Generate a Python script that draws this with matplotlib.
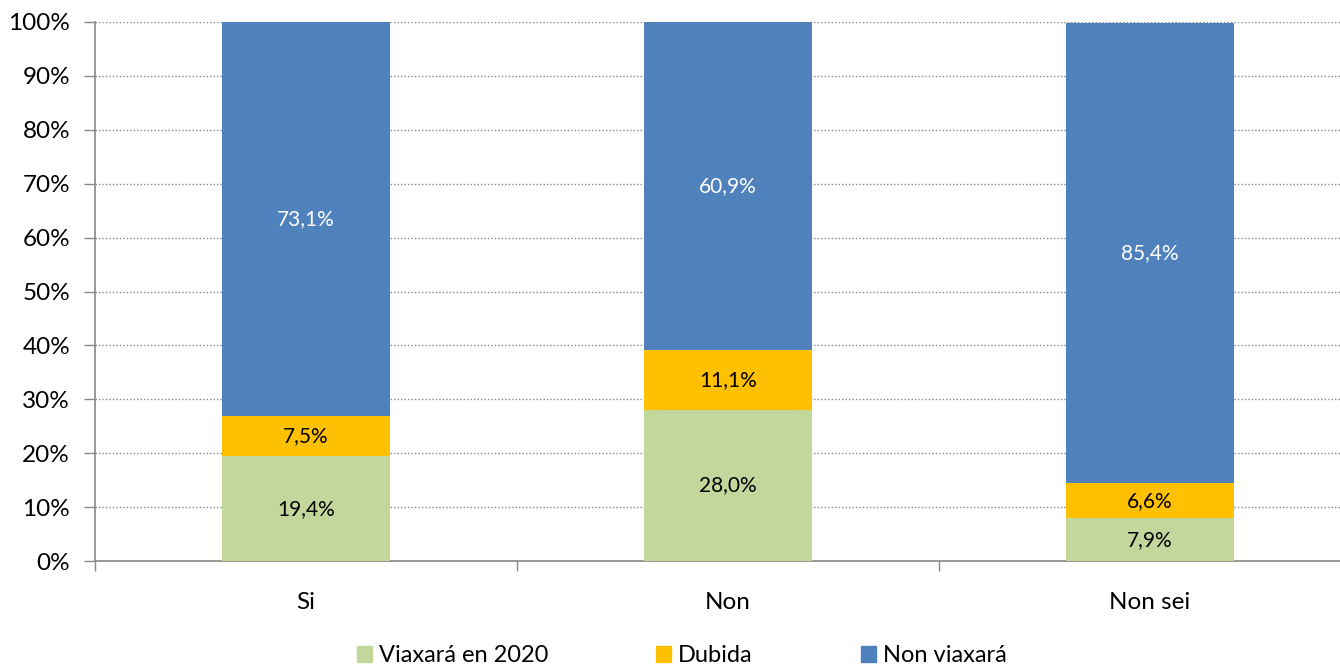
import matplotlib.pyplot as plt
import numpy as np
from matplotlib.patches import Patch

categories = ['Si', 'Non', 'Non sei']
viaxara = [19.4, 28.0, 7.9]
dubida = [7.5, 11.1, 6.6]
non_viaxara = [73.1, 60.9, 85.4]
series_names = ['Viaxará en 2020', 'Dubida', 'Non viaxará']
colors = ['#C3D69B', '#FFC000', '#4F81BD']
label_colors = ['#000000', '#000000', '#FFFFFF']

plt.rcParams['font.family'] = ['Lato', 'DejaVu Sans']

fig = plt.figure(figsize=(13.4, 6.66), dpi=100)
ax = fig.add_axes([95 / 1340, 105 / 666, 1266 / 1340, 539 / 666])

x = np.arange(len(categories))
bottom = np.zeros(len(categories))
for vals, col, lc in zip([viaxara, dubida, non_viaxara], colors, label_colors):
    vals = np.array(vals)
    ax.bar(x, vals, 0.4, bottom=bottom, color=col, zorder=3)
    for xi, b, v in zip(x, bottom, vals):
        ax.text(xi, b + v / 2, f'{v:.1f}%'.replace('.', ','), ha='center', va='center',
                fontsize=15, color=lc, zorder=4)
    bottom += vals

ax.set_xlim(-0.5, 2.5)
ax.set_ylim(0, 100)
ax.set_yticks(np.arange(0, 101, 10))
ax.set_yticklabels([f'{v}%' for v in range(0, 101, 10)], fontsize=17.5)
ax.set_xticks(x)
ax.set_xticklabels(categories, fontsize=17.5)
ax.set_xticks([-0.5, 0.5, 1.5], minor=True)
ax.tick_params(axis='x', which='major', length=0, pad=22)
ax.tick_params(axis='x', which='minor', length=7, color='#888888', width=1)
ax.tick_params(axis='y', length=8, color='#888888', width=1, pad=10)
ax.grid(axis='y', linestyle=(0, (1, 1.5)), color='#888888', linewidth=1, zorder=0)

for s in ['top', 'right']:
    ax.spines[s].set_visible(False)
for s in ['left', 'bottom']:
    ax.spines[s].set_color('#888888')
    ax.spines[s].set_linewidth(1.2)

# legend entries placed individually like the original
legend_x = [357, 656, 861]
for name, col, lx in zip(series_names, colors, legend_x):
    fig.legend(handles=[Patch(color=col)], labels=[name], loc='center left',
               bbox_to_anchor=(lx / 1340, 10 / 666), frameon=False, fontsize=17,
               handlelength=0.63, handleheight=0.63, handletextpad=0.3,
               borderpad=0, borderaxespad=0)

fig.savefig('out.png', dpi=100)
